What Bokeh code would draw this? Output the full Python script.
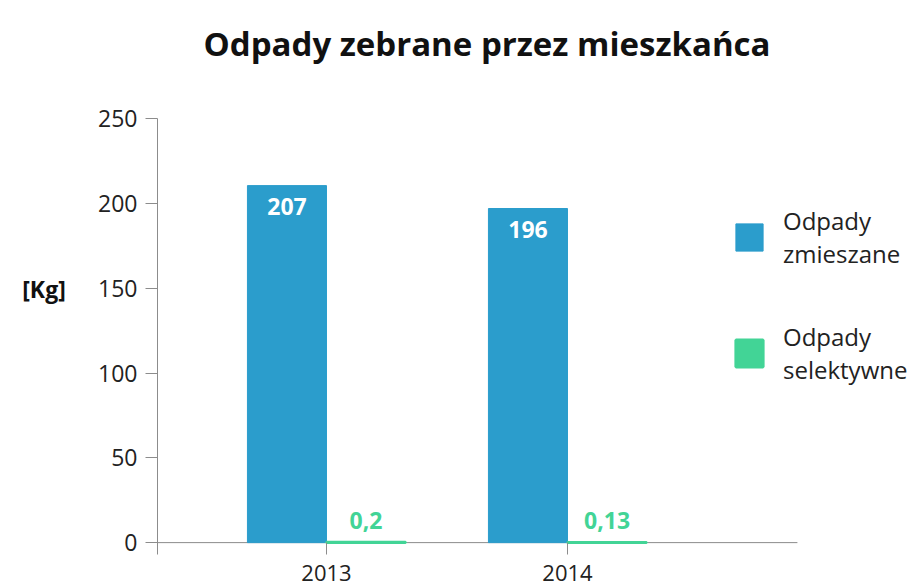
from bokeh.plotting import figure
from bokeh.models import ColumnDataSource, Label, LabelSet, Legend, LegendItem
from bokeh.transform import dodge
from bokeh.embed import file_html
from bokeh.resources import INLINE
from bokeh.core.properties import value

# ---- data ----
years = [2013, 2014]
mixed = [210.5, 197]          # bar heights as drawn in the source chart
selective = [0.2, 0.13]
mixed_labels = ["207", "196"]
selective_labels = ["0,2", "0,13"]
series_names = ["Odpady\nzmieszane", "Odpady\nselektywne"]
title_text = "Odpady zebrane przez mieszkańca"
y_unit = "[Kg]"
y_ticks = [0, 50, 100, 150, 200, 250]

BLUE = "#2b9dcc"
GREEN = "#42d496"
AXIS = "#8c8c8c"
TXT = "#222222"
FONT = "Open Sans"

# layout constants (x units = one year step)
X_START = years[0] - 1.3527
X_END = years[-1] + 1.4357
Y_AXIS_AT = years[0] - 0.7012
X_AXIS_END = years[-1] + 0.954
Y_BOTTOM = -7
Y_START = -26.46
Y_END = 319.65
W = 0.328

src = ColumnDataSource(dict(year=years, mixed=mixed, sel=selective,
                            ml=mixed_labels, sl=selective_labels))

p = figure(width=913, height=587, output_backend="svg", toolbar_location=None,
           x_range=(X_START, X_END), y_range=(Y_START, Y_END),
           min_border_left=0, min_border_right=0, min_border_top=0,
           min_border_bottom=0)
p.outline_line_color = None
p.grid.grid_line_color = None
p.background_fill_color = "white"

# x axis baseline at zero
p.segment(x0=[Y_AXIS_AT], x1=[X_AXIS_END], y0=[0], y1=[0], line_color=AXIS, line_width=1)

r1 = p.vbar(x=dodge("year", -W / 2), top="mixed", bottom=0, width=W, source=src,
            fill_color=BLUE, line_color=BLUE)
r2 = p.vbar(x=dodge("year", W / 2), top="sel", bottom=0, width=W, source=src,
            fill_color=GREEN, line_color=GREEN, line_width=3)

# axes
p.yaxis.fixed_location = Y_AXIS_AT
p.yaxis.bounds = (Y_BOTTOM, y_ticks[-1])
p.yaxis.ticker = y_ticks
p.yaxis.major_tick_out = 12
p.yaxis.major_tick_in = 0
p.yaxis.minor_tick_line_color = None
p.yaxis.axis_line_color = AXIS
p.yaxis.major_tick_line_color = AXIS
p.yaxis.major_label_text_font = FONT
p.yaxis.major_label_text_font_size = "23px"
p.yaxis.major_label_text_color = TXT
p.yaxis.major_label_standoff = 8

p.xaxis.fixed_location = Y_BOTTOM
p.xaxis.ticker = years
p.xaxis.axis_line_color = None
p.xaxis.major_tick_in = 12
p.xaxis.major_tick_out = 0
p.xaxis.minor_tick_line_color = None
p.xaxis.major_tick_line_color = AXIS
p.xaxis.major_label_text_font = FONT
p.xaxis.major_label_text_font_size = "22px"
p.xaxis.major_label_text_color = TXT
p.xaxis.major_label_standoff = 11

# value labels
p.add_layout(LabelSet(x=dodge("year", -W / 2), y="mixed", text="ml", source=src,
                      y_offset=-12, text_align="center", text_baseline="top",
                      text_color="white", text_font=value(FONT),
                      text_font_style="bold", text_font_size="23px"))
p.add_layout(LabelSet(x=dodge("year", W / 2), y="sel", text="sl", source=src,
                      y_offset=13, text_align="center", text_baseline="alphabetic",
                      text_color=GREEN, text_font=value(FONT),
                      text_font_style="bold", text_font_size="23px"))

# title
p.add_layout(Label(x=486.5, y=544, x_units="screen", y_units="screen", text=title_text,
                   text_align="center", text_baseline="alphabetic", text_font=FONT,
                   text_font_style="bold", text_font_size="33px", text_color="#111111"))

# unit label
p.add_layout(Label(x=43.5, y=299, x_units="screen", y_units="screen", text=y_unit,
                   text_align="center", text_baseline="middle", text_font=FONT,
                   text_font_style="bold", text_font_size="23px", text_color="#111111"))

# legends
for r, name, ly in [(r1, series_names[0], 316.8), (r2, series_names[1], 201.3)]:
    leg = Legend(items=[LegendItem(label=name, renderers=[r])], location=(732, ly),
                 glyph_width=34, glyph_height=34, label_standoff=17, padding=0, margin=0,
                 border_line_color=None, background_fill_alpha=0,
                 label_text_font=FONT, label_text_font_size="24px",
                 label_text_line_height=1.3, label_text_color=TXT)
    p.add_layout(leg)

open("out.html", "w").write(file_html(p, INLINE))
